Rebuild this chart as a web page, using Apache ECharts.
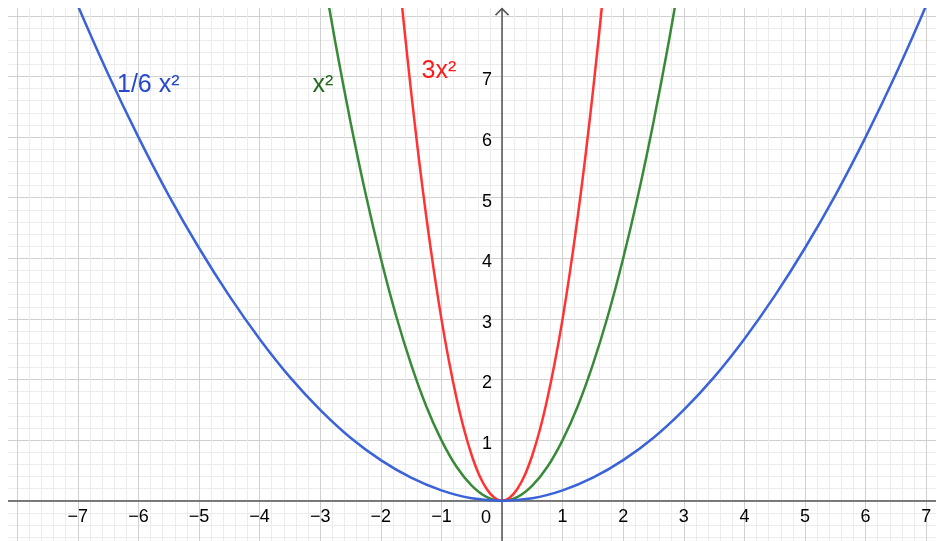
<!DOCTYPE html>
<html><head><meta charset="utf-8">
<script src="https://cdn.jsdelivr.net/npm/echarts@6/dist/echarts.min.js"></script>
<style>html,body{margin:0;padding:0;background:#fff}#c{width:936px;height:541px}</style>
</head><body><div id="c"></div>
<script>
// ---- data ----
const xTickLabels = [-7, -6, -5, -4, -3, -2, -1, 1, 2, 3, 4, 5, 6, 7];
const yTickLabels = [1, 2, 3, 4, 5, 6, 7];
const curveNames = ['1/6 x²', 'x²', '3x²'];

const blueX = [-7.5,-7,-6.5,-6,-5.5,-5,-4.5,-4,-3.5,-3,-2.5,-2,-1.5,-1,-0.5,0,0.5,1,1.5,2,2.5,3,3.5,4,4.5,5,5.5,6,6.5,7,7.5];
const blueY = [9.38,8.17,7.04,6.00,5.04,4.17,3.38,2.67,2.04,1.50,1.04,0.67,0.38,0.17,0.04,0,0.04,0.17,0.38,0.67,1.04,1.50,2.04,2.67,3.38,4.17,5.04,6.00,7.04,8.17,9.38];

const greenX = [-3,-2.75,-2.5,-2.25,-2,-1.75,-1.5,-1.25,-1,-0.75,-0.5,-0.25,0,0.25,0.5,0.75,1,1.25,1.5,1.75,2,2.25,2.5,2.75,3];
const greenY = [9.00,7.56,6.25,5.06,4.00,3.06,2.25,1.56,1.00,0.56,0.25,0.06,0,0.06,0.25,0.56,1.00,1.56,2.25,3.06,4.00,5.06,6.25,7.56,9.00];

const redX = [-1.75,-1.625,-1.5,-1.375,-1.25,-1.125,-1,-0.875,-0.75,-0.625,-0.5,-0.375,-0.25,-0.125,0,0.125,0.25,0.375,0.5,0.625,0.75,0.875,1,1.125,1.25,1.375,1.5,1.625,1.75];
const redY = [9.19,7.92,6.75,5.67,4.69,3.80,3.00,2.30,1.69,1.17,0.75,0.42,0.19,0.05,0,0.05,0.19,0.42,0.75,1.17,1.69,2.30,3.00,3.80,4.69,5.67,6.75,7.92,9.19];

// ---- layout / style ----
const UNIT = 60.6;            // pixels per unit on both axes
const X_MIN = -9, X_MAX = 8, Y_MIN = -1, Y_MAX = 9;
const labelAnchors = [[-6.353, 6.851], [-3.127, 6.86], [-1.328, 7.09]];
const F = "'Liberation Sans', Arial, sans-serif";
const lineColors = ['#3a62d9', '#388a38', '#ff3333'];
const textColors = ['#2448cc', '#1e6b1e', '#ff1a1a'];

const fmt = v => (v < 0 ? '\u2212' + Math.abs(v) : String(v));
const pairs = (xs, ys) => xs.map((x, i) => [x, ys[i]]);

const chart = echarts.init(document.getElementById('c'), null, {renderer: 'canvas'});
const axisCommon = {
  type: 'value', interval: 1,
  minorTick: {show: false, splitNumber: 5},
  minorSplitLine: {show: true, lineStyle: {color: '#ececec', width: 1}},
  splitLine: {show: true, lineStyle: {color: '#d0d0d0', width: 1}},
  axisTick: {show: false},
  axisLine: {show: true, onZero: false, lineStyle: {color: '#555', width: 1.5}}
};
const lineSeries = (xs, ys, color) => ({
  type: 'line', data: pairs(xs, ys), showSymbol: false, symbol: 'none', smooth: 0.3,
  clip: true, lineStyle: {color: color, width: 2.5}, silent: true
});

chart.setOption({
  animation: false,
  grid: {left: -43.4, right: -50.8, top: -44.7, bottom: -20.3, containLabel: false, outerBoundsMode: 'none'},
  xAxis: Object.assign({}, axisCommon, {
    min: X_MIN, max: X_MAX, position: 'bottom', offset: Y_MIN * UNIT,
    axisLabel: {margin: 7, fontSize: 18, color: '#000', fontFamily: F,
      formatter: v => xTickLabels.includes(v) ? fmt(v) : ''}
  }),
  yAxis: Object.assign({}, axisCommon, {
    min: Y_MIN, max: Y_MAX, position: 'left', offset: X_MIN * UNIT,
    axisLabel: {margin: 10, fontSize: 18, color: '#000', fontFamily: F,
      formatter: v => yTickLabels.includes(v) ? '{v|' + v + '}' : '',
      rich: {v: {fontSize: 18, fontFamily: F, color: '#000', padding: [8, 0, 0, 0]}}}
  }),
  series: [
    lineSeries(greenX, greenY, lineColors[1]),
    lineSeries(redX, redY, lineColors[2]),
    lineSeries(blueX, blueY, lineColors[0])
  ]
});

const p = (x, y) => chart.convertToPixel({gridIndex: 0}, [x, y]);
const o = p(0, 0);
const apex = p(0, 8.12);
const graphics = [
  {type: 'rect', shape: {x: 0, y: 0, width: 936, height: 8}, style: {fill: '#fff'}, z: 100, silent: true},
  {type: 'rect', shape: {x: 0, y: 0, width: 8, height: 541}, style: {fill: '#fff'}, z: 100, silent: true},
  {type: 'polyline', shape: {points: [[apex[0] - 6.5, apex[1] + 6.5], [apex[0], apex[1]], [apex[0] + 6.5, apex[1] + 6.5]]},
   style: {stroke: '#555', lineWidth: 1.5, fill: null}, z: 101, silent: true},
  {type: 'text', x: o[0] - 11, y: o[1] + 17, z: 101, silent: true,
   style: {text: '0', fontSize: 18, fontFamily: F, fill: '#000', align: 'right', verticalAlign: 'middle'}}
];
curveNames.forEach((name, i) => {
  const q = p(labelAnchors[i][0], labelAnchors[i][1]);
  graphics.push({type: 'text', x: q[0], y: q[1], z: 101, silent: true,
    style: {text: name, fontSize: 25, fontFamily: F, fill: textColors[i], align: 'left', verticalAlign: 'middle'}});
});
chart.setOption({graphic: graphics});
</script>
</body></html>
